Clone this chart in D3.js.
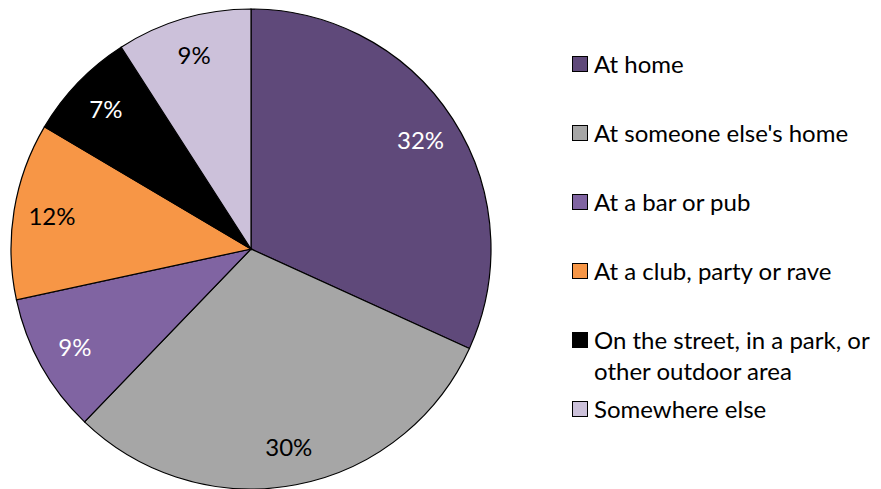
<!DOCTYPE html>
<html>
<head>
<meta charset="utf-8">
<script src="https://cdn.jsdelivr.net/npm/d3@7"></script>
<style>
  body { margin: 0; background: #fff; }
  svg text { font-family: Lato, "Open Sans", sans-serif; }
</style>
</head>
<body>
<div id="chart"></div>
<script>
const categories = ["At home", "At someone else's home", "At a bar or pub", "At a club, party or rave", "On the street, in a park, or other outdoor area", "Somewhere else"];
const legendLines = [["At home"], ["At someone else's home"], ["At a bar or pub"], ["At a club, party or rave"], ["On the street, in a park, or", "other outdoor area"], ["Somewhere else"]];
const values = [31.8, 30.4, 9.4, 11.9, 7.4, 9.1];
const colors = ["#5F497A", "#A6A6A6", "#8064A2", "#F79646", "#000000", "#CCC1DA"];
const labelColors = ["#fff", "#000", "#fff", "#000", "#fff", "#000"];

const width = 881, height = 489;
const cx = 251, cy = 249, radius = 240;

const data = categories.map((name, i) => ({ name, value: values[i], i }));

const svg = d3.select("#chart").append("svg")
  .attr("width", width)
  .attr("height", height);

const pie = d3.pie().sort(null).value(d => d.value);
const arc = d3.arc().innerRadius(0).outerRadius(radius);
const labelArc = d3.arc().innerRadius(radius * 0.84).outerRadius(radius * 0.84);
const arcs = pie(data);

const g = svg.append("g").attr("transform", `translate(${cx},${cy})`);

g.selectAll("path")
  .data(arcs)
  .join("path")
  .attr("d", arc)
  .attr("fill", d => colors[d.data.i])
  .attr("stroke", "#000")
  .attr("stroke-width", 1.2);

g.selectAll("text")
  .data(arcs)
  .join("text")
  .attr("transform", d => `translate(${labelArc.centroid(d)})`)
  .attr("text-anchor", "middle")
  .attr("dy", "0.36em")
  .attr("font-size", 24)
  .attr("fill", d => labelColors[d.data.i])
  .text(d => Math.round(d.data.value) + "%");

// legend
const legend = svg.append("g").attr("transform", "translate(572,64)");
const item = legend.selectAll("g")
  .data(data)
  .join("g")
  .attr("transform", (d, i) => `translate(0,${i * 69})`);

item.append("rect")
  .attr("x", 0.5).attr("y", -7.5)
  .attr("width", 15).attr("height", 15)
  .attr("fill", d => colors[d.i])
  .attr("stroke", "#000")
  .attr("stroke-width", 1);

item.append("text")
  .attr("font-size", 24)
  .attr("fill", "#000")
  .selectAll("tspan")
  .data(d => legendLines[d.i])
  .join("tspan")
  .attr("x", 22)
  .attr("y", (d, j) => j * 31)
  .attr("dy", "0.36em")
  .text(d => d);
</script>
</body>
</html>
